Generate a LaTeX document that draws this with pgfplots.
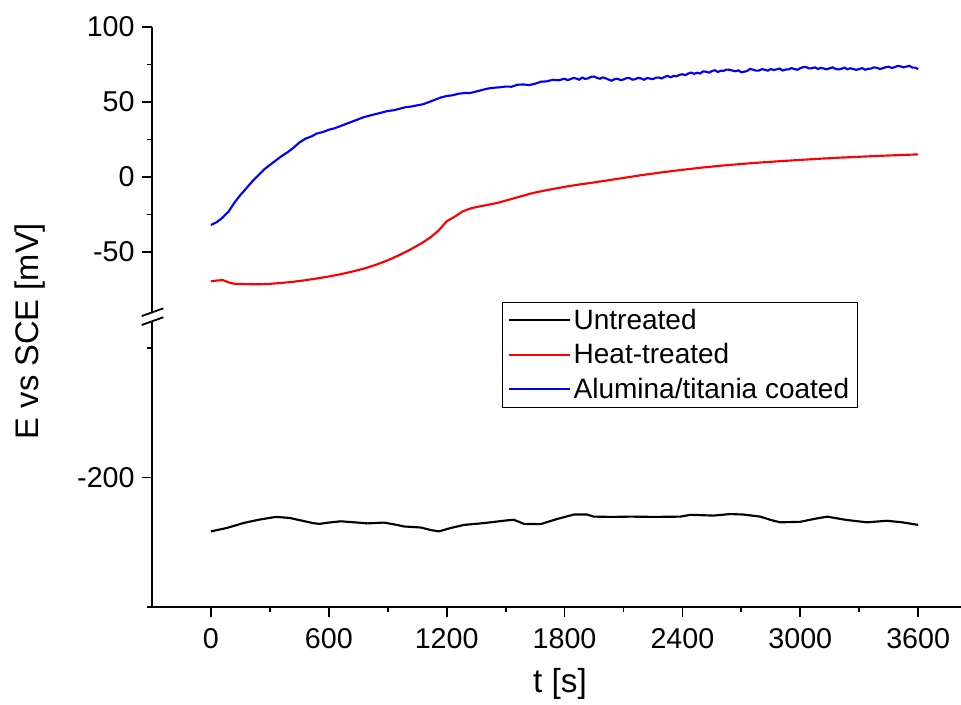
\documentclass[border=0pt]{standalone}
\usepackage{fontspec}
\setmainfont{Liberation Sans}
\usepackage{pgfplots}
\pgfplotsset{compat=1.18}

\pgfplotstableread{
t E
0 -32
30 -30
60 -27
90 -23
120 -17
150 -12
180 -7.5
210 -3
240 1
270 5
300 8
330 11
360 14
390 16.5
420 19.5
450 23
480 25.5
510 27
540 29
570 30
600 31.5
630 32.5
660 34
690 35.5
720 37
750 38.5
780 40
810 41
840 42
870 43
900 44
930 44.5
960 45.5
990 46.5
1020 47
1050 47.8
1080 48.5
1110 50
1140 51.5
1170 53
1200 54
1230 54.5
1260 55.5
1290 56
1320 56
1350 57
1380 58
1410 59
1440 59.5
1470 59.8
1500 60.3
1530 60.2
1560 61.5
1590 61.7
1620 61.3
1650 62.2
1680 63.5
1710 63.8
1740 64.8
1770 64.5
1800 65.5
1815 64.6
1830 65.2
1845 66.1
1860 65.6
1875 64.9
1890 66.3
1905 65.4
1920 65.8
1935 66.8
1950 67
1965 66.1
1980 65.5
1995 66.4
2010 65.8
2025 64.9
2040 64.2
2055 65.3
2070 65.5
2085 64.6
2100 65
2115 65.9
2130 66
2145 64.9
2160 65.2
2175 66.1
2190 65.7
2205 64.8
2220 66
2235 65.6
2250 65.3
2265 66.2
2280 66.3
2295 65.7
2310 66.8
2325 67.4
2340 66.5
2355 67.3
2370 67.2
2385 68.1
2400 68.5
2415 67.9
2430 69
2445 69.6
2460 68.8
2475 69.5
2490 69
2505 70.4
2520 70.2
2535 69.6
2550 70.6
2565 71.2
2580 70
2595 70.9
2610 70.8
2625 71.6
2640 71.5
2655 70.9
2670 70.5
2685 71.1
2700 69.8
2715 70.2
2730 70.8
2745 72.1
2760 71.5
2775 70.9
2790 71
2805 71.9
2820 71.5
2835 70.9
2850 72
2865 71.3
2880 71.8
2895 72.3
2910 71
2925 71.6
2940 71.8
2955 72.6
2970 72
2985 71.5
3000 72.5
3015 73.3
3030 73.2
3045 72.4
3060 72.5
3075 73.1
3090 72
3105 72.8
3120 72.3
3135 71.8
3150 72.5
3165 73.1
3180 72
3195 71.7
3210 72.2
3225 72.9
3240 71.8
3255 72.5
3270 72
3285 71.4
3300 72
3315 72.6
3330 71.5
3345 72.1
3360 72.3
3375 73.1
3390 72.8
3405 72
3420 72.5
3435 73.2
3450 73.5
3465 72.7
3480 73.2
3495 74
3510 73.8
3525 73.1
3540 73.6
3555 74.1
3570 73
3585 72.9
3600 72
}\coated

\pgfplotstableread{
t E
0 -69.5
30 -69
60 -68.7
90 -70.2
120 -71.2
180 -71.4
240 -71.5
300 -71.2
360 -70.6
420 -69.8
480 -68.8
540 -67.6
600 -66.3
660 -64.8
720 -63
780 -61
840 -58.5
900 -55.5
960 -52
1020 -48
1080 -43.5
1120 -40
1160 -35.5
1200 -29.5
1240 -26.5
1280 -23
1320 -21
1360 -19.8
1400 -18.8
1460 -17.2
1520 -15
1580 -12.8
1640 -10.6
1700 -9
1760 -7.5
1820 -6.1
1880 -4.9
1940 -3.8
2000 -2.6
2100 -0.6
2200 1.4
2300 3.2
2400 4.8
2500 6.3
2600 7.6
2700 8.7
2800 9.7
2900 10.6
3000 11.4
3100 12.2
3200 12.9
3300 13.5
3400 14.1
3500 14.6
3600 15.1
}\heat

\pgfplotstableread{
t E
0 -220.8
80 -219.5
169 -217.5
250 -216.2
331 -215.2
400 -215.6
460 -216.6
520 -217.6
551 -217.9
600 -217.4
661 -216.9
730 -217.3
797 -217.7
881 -217.4
940 -218.2
983 -218.9
1068 -219.3
1120 -220.3
1161 -220.8
1220 -219.5
1288 -218.3
1360 -217.8
1424 -217.3
1500 -216.6
1542 -216.3
1593 -217.9
1678 -218
1720 -217
1763 -216
1847 -214.3
1915 -214.3
1949 -215.1
2040 -215.2
2136 -215.1
2260 -215.2
2390 -215.1
2441 -214.4
2559 -214.7
2644 -214.1
2712 -214.3
2797 -215.1
2850 -216.4
2898 -217.3
3000 -217.1
3070 -216
3136 -215.1
3237 -216.4
3339 -217.3
3441 -216.7
3520 -217.3
3600 -218.3
}\untreated

\pgfplotsset{
  brk/.style={
    scale only axis, width=606.75pt,
    xmin=-300, xmax=3818,
    axis y line*=left, axis line style={line width=1.35pt},
    tick style={line width=1.35pt, black},
    tick align=outside,
    major tick length=7.5pt, minor tick length=3.75pt,
    /pgf/number format/assume math mode=true,
    /pgf/number format/set thousands separator={},
    tick label style={font=\fontsize{21.5}{26}\selectfont},
    yticklabel style={xshift=-2pt},
    xticklabel style={yshift=-5pt},
    every axis plot/.append style={line width=1.6pt},
  }
}

\begin{document}
\begin{tikzpicture}
\useasboundingbox (-114pt,-72.75pt) rectangle (606.75pt,455.25pt);

% lower part: untreated
\begin{axis}[brk, name=lower, at={(0,0)}, anchor=south west,
  height=217.5pt, ymin=-250, ymax=-138,
  axis x line*=bottom,
  xtick={0,600,...,3600}, minor x tick num=1,
  ytick={-200}, minor ytick={-250,-150},
  legend style={at={(0.4323,1.053)}, anchor=north west, draw=black, line width=0.9pt,
    font=\fontsize{21}{24.4}\selectfont, inner xsep=4pt, inner ysep=3pt,
    cells={anchor=west}, /tikz/every even column/.style={column sep=1pt}},
  legend cell align=left,
  legend image code/.code={\draw[#1] (0pt,0pt) -- (46pt,0pt);},
  legend image post style={line width=1.5pt},
  legend style={row sep=5.3pt},
]
\addplot[black] table[x=t, y=E] {\untreated};
\addlegendentry{Untreated}
\addlegendimage{red}
\addlegendentry{Heat-treated}
\addlegendimage{blue}
\addlegendentry{Alumina/titania coated}
\end{axis}

% upper part: heat-treated and coated
\begin{axis}[brk, at={(0,217.5pt)}, anchor=south west,
  height=217.5pt, ymin=-93.3, ymax=100,
  axis x line=none,
  ytick={-50,0,50,100}, minor y tick num=1,
]
\addplot[red] table[x=t, y=E] {\heat};
\addplot[blue] table[x=t, y=E] {\coated};
\end{axis}

% axis break marks
\fill[white] (-7.7pt,211.5pt) -- (8.5pt,217.3pt) -- (8.5pt,224pt) -- (-7.7pt,218.2pt) -- cycle;
\draw[line width=1.35pt] (-7.7pt,211.5pt) -- (8.5pt,217.3pt);
\draw[line width=1.35pt] (-7.7pt,218.2pt) -- (8.5pt,224pt);

\node[rotate=90, font=\fontsize{24.5}{29}\selectfont] at (-91.5pt,207pt) {E vs SCE [mV]};
\node[font=\fontsize{25}{30}\selectfont] at (306pt,-57.75pt) {t [s]};
\end{tikzpicture}
\end{document}
